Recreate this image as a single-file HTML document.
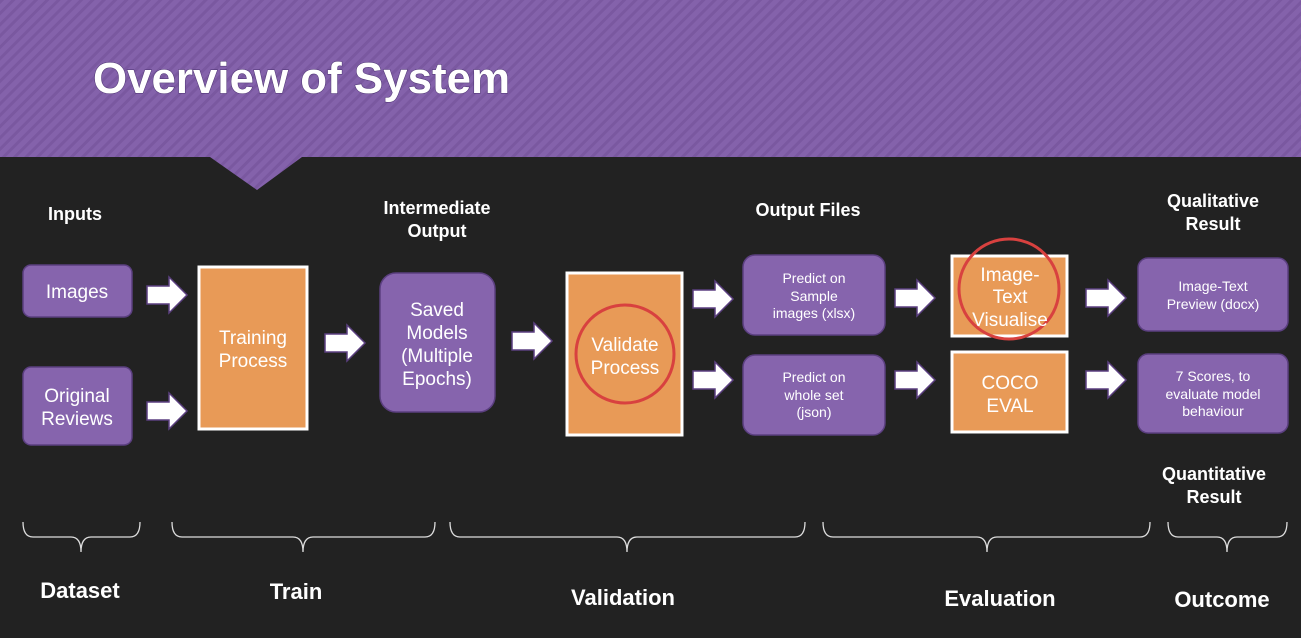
<!DOCTYPE html>
<html><head><style>
body{margin:0;width:1301px;height:638px;overflow:hidden;background:#222;font-family:"Liberation Sans",sans-serif;}
svg{display:block}
</style></head><body>
<svg width="1301" height="638" xmlns="http://www.w3.org/2000/svg" font-family="Liberation Sans, sans-serif">
<defs>
<pattern id="st" width="8" height="8" patternUnits="userSpaceOnUse" patternTransform="rotate(45)">
<rect width="8" height="8" fill="#8462ab"/><rect width="3" height="8" fill="#7a58a0"/>
</pattern>
<g id="ar"><polygon points="0,-9 22,-9 22,-18 40,0 22,18 22,9 0,9" fill="#fff" stroke="#5b3f80" stroke-width="1.5"/></g>
</defs>
<rect x="0" y="0" width="1301" height="638" fill="#222"/>
<polygon points="0,0 1301,0 1301,157 302,157 257,190 210,157 0,157" fill="url(#st)"/>
<text x="93" y="93" font-size="44" font-weight="bold" fill="#fff" stroke="#4a3070" stroke-width="1" paint-order="stroke" textLength="417" lengthAdjust="spacingAndGlyphs">Overview of System</text>

<g fill="#fff" font-weight="bold" font-size="18" text-anchor="middle">
<text x="75" y="220">Inputs</text>
<text x="437" y="214">Intermediate</text><text x="437" y="237">Output</text>
<text x="808" y="216">Output Files</text>
<text x="1213" y="207">Qualitative</text><text x="1213" y="230">Result</text>
<text x="1214" y="480">Quantitative</text><text x="1214" y="503">Result</text>
</g>

<g stroke="#5b3f80" stroke-width="1.5" fill="#8664ad">
<rect x="23" y="265" width="109" height="52" rx="8"/>
<rect x="23" y="367" width="109" height="78" rx="8"/>
<rect x="380" y="273" width="115" height="139" rx="16"/>
<rect x="743" y="255" width="142" height="80" rx="12"/>
<rect x="743" y="355" width="142" height="80" rx="12"/>
<rect x="1138" y="258" width="150" height="73" rx="10"/>
<rect x="1138" y="354" width="150" height="79" rx="10"/>
</g>
<g fill="#e89a57" stroke="#fff" stroke-width="3">
<rect x="199" y="267" width="108" height="162"/>
<rect x="567" y="273" width="115" height="162"/>
<rect x="952" y="256" width="115" height="80"/>
<rect x="952" y="352" width="115" height="80"/>
</g>
<circle cx="625" cy="354" r="49" fill="none" stroke="#d8413f" stroke-width="3"/>
<circle cx="1009" cy="289" r="50" fill="none" stroke="#d8413f" stroke-width="3"/>

<g fill="#fff" font-size="19" text-anchor="middle">
<text x="77" y="298">Images</text>
<text x="77" y="402">Original</text><text x="77" y="425">Reviews</text>
<text x="253" y="344">Training</text><text x="253" y="367">Process</text>
<text x="437" y="316">Saved</text><text x="437" y="339">Models</text><text x="437" y="362">(Multiple</text><text x="437" y="385">Epochs)</text>
<text x="625" y="351">Validate</text><text x="625" y="374">Process</text>
<text x="1010" y="281">Image-</text><text x="1010" y="303">Text</text><text x="1010" y="326">Visualise</text>
<text x="1010" y="389">COCO</text><text x="1010" y="412">EVAL</text>
</g>
<g fill="#fff" font-size="14" text-anchor="middle">
<text x="814" y="283">Predict on</text><text x="814" y="301">Sample</text><text x="814" y="318">images (xlsx)</text>
<text x="814" y="382">Predict on</text><text x="814" y="400">whole set</text><text x="814" y="417">(json)</text>
<text x="1213" y="291">Image-Text</text><text x="1213" y="309">Preview (docx)</text>
<text x="1213" y="381">7 Scores, to</text><text x="1213" y="399">evaluate model</text><text x="1213" y="416">behaviour</text>
</g>

<use href="#ar" x="147" y="295"/>
<use href="#ar" x="147" y="411"/>
<use href="#ar" x="325" y="343"/>
<use href="#ar" x="512" y="341"/>
<use href="#ar" x="693" y="299"/>
<use href="#ar" x="693" y="380"/>
<use href="#ar" x="895" y="298"/>
<use href="#ar" x="895" y="380"/>
<use href="#ar" x="1086" y="298"/>
<use href="#ar" x="1086" y="380"/>

<g fill="none" stroke="#ddd" stroke-width="1.3">
<path d="M23,522 q0,15 10,15 H71 q10,0 10,15 q0,-15 10,-15 H130 q10,0 10,-15"/>
<path d="M172,522 q0,15 10,15 H293 q10,0 10,15 q0,-15 10,-15 H425 q10,0 10,-15"/>
<path d="M450,522 q0,15 10,15 H617 q10,0 10,15 q0,-15 10,-15 H795 q10,0 10,-15"/>
<path d="M823,522 q0,15 10,15 H977 q10,0 10,15 q0,-15 10,-15 H1140 q10,0 10,-15"/>
<path d="M1168,522 q0,15 10,15 H1217 q10,0 10,15 q0,-15 10,-15 H1277 q10,0 10,-15"/>
</g>
<g fill="#fff" font-weight="bold" font-size="22" text-anchor="middle">
<text x="80" y="598">Dataset</text>
<text x="296" y="599">Train</text>
<text x="623" y="605">Validation</text>
<text x="1000" y="606">Evaluation</text>
<text x="1222" y="607">Outcome</text>
</g>
</svg>
</body></html>
